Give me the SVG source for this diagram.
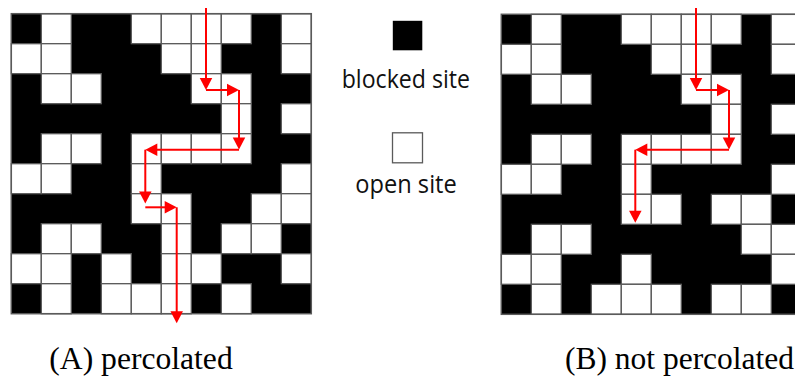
<svg xmlns="http://www.w3.org/2000/svg" width="795" height="376" viewBox="0 0 795 376">
<style>
.bg{fill:#000}
.w{fill:#fff;stroke:#5a5a5a;stroke-width:1.3}
.frame{fill:none;stroke:#5a5a5a;stroke-width:1.5}
.arr{stroke:#ff0000;stroke-width:2;fill:none;marker-end:url(#ah)}
.lg{font-family:"Open Sans","Liberation Sans",sans-serif;font-size:25px;fill:#111}
.cap{font-family:"Liberation Serif","Times New Roman",serif;font-size:31px;fill:#000}
</style>
<defs>
<marker id="ah" markerUnits="userSpaceOnUse" markerWidth="13" markerHeight="13" refX="6" refY="6.25" orient="auto" overflow="visible">
<path d="M0,0 L12,6.25 L0,12.5 z" fill="#ff0000"/>
</marker>
</defs>
<rect width="795" height="376" fill="#fff"/>

<g id="gridA" transform="translate(11.3,13.7)">
<rect class="bg" x="0" y="0" width="300" height="300"/>
<rect class="w" x="30" y="0" width="30" height="30"/><rect class="w" x="120" y="0" width="30" height="30"/><rect class="w" x="150" y="0" width="30" height="30"/><rect class="w" x="180" y="0" width="30" height="30"/><rect class="w" x="210" y="0" width="30" height="30"/><rect class="w" x="270" y="0" width="30" height="30"/>
<rect class="w" x="0" y="30" width="30" height="30"/><rect class="w" x="30" y="30" width="30" height="30"/><rect class="w" x="150" y="30" width="30" height="30"/><rect class="w" x="180" y="30" width="30" height="30"/><rect class="w" x="270" y="30" width="30" height="30"/>
<rect class="w" x="30" y="60" width="30" height="30"/><rect class="w" x="60" y="60" width="30" height="30"/><rect class="w" x="180" y="60" width="30" height="30"/><rect class="w" x="210" y="60" width="30" height="30"/>
<rect class="w" x="210" y="90" width="30" height="30"/><rect class="w" x="270" y="90" width="30" height="30"/>
<rect class="w" x="30" y="120" width="30" height="30"/><rect class="w" x="60" y="120" width="30" height="30"/><rect class="w" x="120" y="120" width="30" height="30"/><rect class="w" x="150" y="120" width="30" height="30"/><rect class="w" x="180" y="120" width="30" height="30"/><rect class="w" x="210" y="120" width="30" height="30"/>
<rect class="w" x="0" y="150" width="30" height="30"/><rect class="w" x="30" y="150" width="30" height="30"/><rect class="w" x="120" y="150" width="30" height="30"/><rect class="w" x="270" y="150" width="30" height="30"/>
<rect class="w" x="120" y="180" width="30" height="30"/><rect class="w" x="150" y="180" width="30" height="30"/><rect class="w" x="240" y="180" width="30" height="30"/><rect class="w" x="270" y="180" width="30" height="30"/>
<rect class="w" x="30" y="210" width="30" height="30"/><rect class="w" x="60" y="210" width="30" height="30"/><rect class="w" x="150" y="210" width="30" height="30"/><rect class="w" x="210" y="210" width="30" height="30"/><rect class="w" x="240" y="210" width="30" height="30"/>
<rect class="w" x="0" y="240" width="30" height="30"/><rect class="w" x="30" y="240" width="30" height="30"/><rect class="w" x="90" y="240" width="30" height="30"/><rect class="w" x="150" y="240" width="30" height="30"/><rect class="w" x="180" y="240" width="30" height="30"/><rect class="w" x="270" y="240" width="30" height="30"/>
<rect class="w" x="30" y="270" width="30" height="30"/><rect class="w" x="90" y="270" width="30" height="30"/><rect class="w" x="120" y="270" width="30" height="30"/><rect class="w" x="150" y="270" width="30" height="30"/><rect class="w" x="210" y="270" width="30" height="30"/>
<rect class="frame" x="0" y="0" width="300" height="300"/>
</g>

<g id="gridB" transform="translate(501.3,14.3)">
<rect class="bg" x="0" y="0" width="300" height="300"/>
<rect class="w" x="30" y="0" width="30" height="30"/><rect class="w" x="120" y="0" width="30" height="30"/><rect class="w" x="150" y="0" width="30" height="30"/><rect class="w" x="180" y="0" width="30" height="30"/><rect class="w" x="210" y="0" width="30" height="30"/><rect class="w" x="270" y="0" width="30" height="30"/>
<rect class="w" x="0" y="30" width="30" height="30"/><rect class="w" x="30" y="30" width="30" height="30"/><rect class="w" x="150" y="30" width="30" height="30"/><rect class="w" x="180" y="30" width="30" height="30"/><rect class="w" x="270" y="30" width="30" height="30"/>
<rect class="w" x="30" y="60" width="30" height="30"/><rect class="w" x="60" y="60" width="30" height="30"/><rect class="w" x="180" y="60" width="30" height="30"/><rect class="w" x="210" y="60" width="30" height="30"/>
<rect class="w" x="210" y="90" width="30" height="30"/><rect class="w" x="270" y="90" width="30" height="30"/>
<rect class="w" x="30" y="120" width="30" height="30"/><rect class="w" x="60" y="120" width="30" height="30"/><rect class="w" x="120" y="120" width="30" height="30"/><rect class="w" x="150" y="120" width="30" height="30"/><rect class="w" x="180" y="120" width="30" height="30"/><rect class="w" x="210" y="120" width="30" height="30"/>
<rect class="w" x="0" y="150" width="30" height="30"/><rect class="w" x="30" y="150" width="30" height="30"/><rect class="w" x="120" y="150" width="30" height="30"/><rect class="w" x="270" y="150" width="30" height="30"/>
<rect class="w" x="120" y="180" width="30" height="30"/><rect class="w" x="150" y="180" width="30" height="30"/><rect class="w" x="210" y="180" width="30" height="30"/><rect class="w" x="240" y="180" width="30" height="30"/>
<rect class="w" x="30" y="210" width="30" height="30"/><rect class="w" x="60" y="210" width="30" height="30"/><rect class="w" x="240" y="210" width="30" height="30"/><rect class="w" x="270" y="210" width="30" height="30"/>
<rect class="w" x="0" y="240" width="30" height="30"/><rect class="w" x="30" y="240" width="30" height="30"/><rect class="w" x="120" y="240" width="30" height="30"/><rect class="w" x="270" y="240" width="30" height="30"/>
<rect class="w" x="30" y="270" width="30" height="30"/><rect class="w" x="90" y="270" width="30" height="30"/><rect class="w" x="120" y="270" width="30" height="30"/><rect class="w" x="150" y="270" width="30" height="30"/><rect class="w" x="210" y="270" width="30" height="30"/><rect class="w" x="240" y="270" width="30" height="30"/>
<rect class="frame" x="0" y="0" width="300" height="300"/>
</g>

<g id="connectors">
<line class="arr" x1="206" y1="8" x2="206" y2="84"/>
<line class="arr" x1="206" y1="90" x2="233" y2="90"/>
<line class="arr" x1="239" y1="90" x2="239" y2="143.5"/>
<line class="arr" x1="239" y1="149.7" x2="151.3" y2="149.7"/>
<line class="arr" x1="145.3" y1="149.7" x2="145.3" y2="197.5"/>
<line class="arr" x1="145.3" y1="207.3" x2="170.7" y2="207.3"/>
<line class="arr" x1="176.7" y1="207.3" x2="176.7" y2="317.3"/>

<line class="arr" x1="696" y1="8" x2="696" y2="84"/>
<line class="arr" x1="696" y1="90" x2="723" y2="90"/>
<line class="arr" x1="729" y1="90" x2="729" y2="143.5"/>
<line class="arr" x1="729" y1="149.7" x2="641.3" y2="149.7"/>
<line class="arr" x1="635.3" y1="149.7" x2="635.3" y2="216.7"/>
</g>

<g id="legend-blocked">
<rect x="392.8" y="20.8" width="29.5" height="29.5" fill="#000"/>
<text class="lg" x="341.7" y="88" textLength="128.3" lengthAdjust="spacingAndGlyphs">blocked site</text>
</g>
<g id="legend-open">
<rect x="392.5" y="132.8" width="30" height="30" fill="#fff" stroke="#5a5a5a" stroke-width="1.3"/>
<text class="lg" x="355.3" y="192.5" textLength="101.5" lengthAdjust="spacingAndGlyphs">open site</text>
</g>

<g id="captions">
<text class="cap" x="49.3" y="369" textLength="183.4" lengthAdjust="spacingAndGlyphs">(A) percolated</text>
<text class="cap" x="565" y="369" textLength="229" lengthAdjust="spacingAndGlyphs">(B) not percolated</text>
</g>
</svg>
